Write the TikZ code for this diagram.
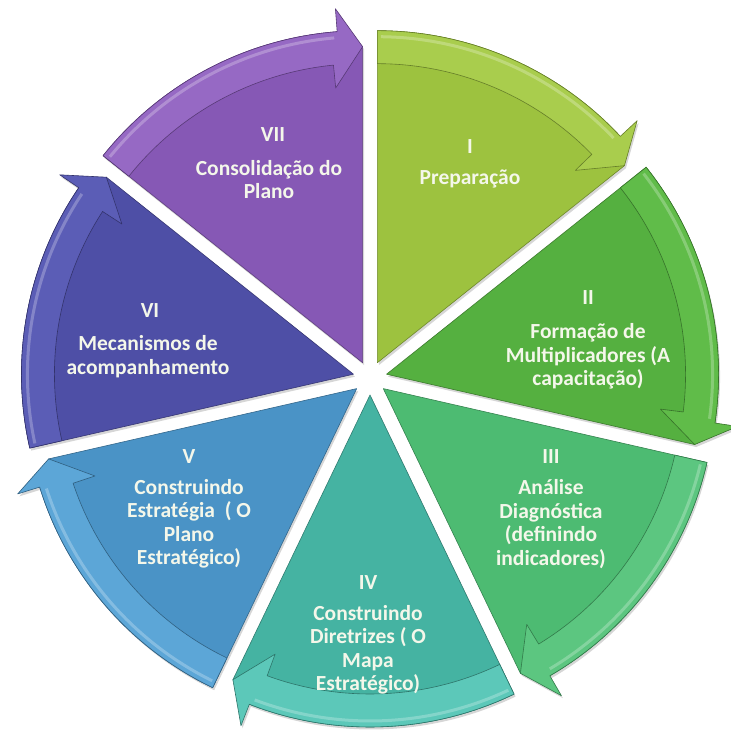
\documentclass[tikz,border=0pt]{standalone}
\usepackage{fontspec}
\setmainfont{Carlito}
\definecolor{txt}{HTML}{F4F7EA}
\definecolor{bI}{HTML}{9DC23F}\definecolor{aI}{HTML}{A9CD4D}
\definecolor{bII}{HTML}{55B040}\definecolor{aII}{HTML}{60BC49}
\definecolor{bIII}{HTML}{4DBB72}\definecolor{aIII}{HTML}{5CC680}
\definecolor{bIV}{HTML}{45B3A2}\definecolor{aIV}{HTML}{5CC8B9}
\definecolor{bV}{HTML}{4A93C6}\definecolor{aV}{HTML}{5CA6D7}
\definecolor{bVI}{HTML}{4E4FA6}\definecolor{aVI}{HTML}{5B5DB6}
\definecolor{bVII}{HTML}{8658B5}\definecolor{aVII}{HTML}{9669C4}
\tikzset{
  lbl/.style={text=txt, align=center, font=\fontsize{21.5}{23.5}\selectfont\bfseries, inner sep=0pt},
}
\newcommand\segdraw[3]{%
  \pgfmathsetmacro\aA{90-#1*360/7}%
  \pgfmathsetmacro\aB{\aA-360/7}%
  \pgfmathsetmacro\aM{\aA-180/7}%
  \pgfmathsetmacro\aHo{\aB+4.4}%
  \pgfmathsetmacro\aHi{\aB+5.6}%
  \pgfmathsetmacro\cx{370+17*cos(\aM)}%
  \pgfmathsetmacro\cy{353+17*sin(\aM)}%
  \begin{scope}[shift={(\cx pt,\cy pt)}]
    \fill[black,opacity=0.16,shift={(1.5pt,-2.5pt)}] (0,0) -- (\aA:332pt) arc[start angle=\aA,end angle=\aHo,radius=332pt] -- (\aHo:355pt) -- (\aB:316pt) -- cycle;
    \filldraw[fill=#2,draw=#2!70!black,line width=0.6pt,line join=round] (0,0) -- (\aA:332pt) arc[start angle=\aA,end angle=\aHo,radius=332pt] -- (\aB:316pt) -- cycle;
    \filldraw[fill=#3,draw=#2!65!black,line width=0.6pt,line join=round] (\aA:332pt) arc[start angle=\aA,end angle=\aHo,radius=332pt] -- (\aHo:355pt) -- (\aB:316pt) -- (\aHi:276pt) -- (\aHi:299pt) arc[start angle=\aHi,end angle=\aA,radius=299pt] -- cycle;
    \draw[white,opacity=0.25,line width=3pt] (\aA-0.6:326pt) arc[start angle=\aA-0.6,end angle=\aHo+0.6,radius=326pt];
  \end{scope}
}
\begin{document}
\begin{tikzpicture}[x=1pt,y=1pt]
\useasboundingbox (0,0) rectangle (731,731);
\fill[white] (0,0) rectangle (731,731);
\segdraw{0}{bI}{aI}
\segdraw{1}{bII}{aII}
\segdraw{2}{bIII}{aIII}
\segdraw{3}{bIV}{aIV}
\segdraw{4}{bV}{aV}
\segdraw{5}{bVI}{aVI}
\segdraw{6}{bVII}{aVII}
% labels (y = 731 - image y)
\node[lbl] (n7) at (273,596) {VII};
\node[lbl] (t7) at (269,551.5) {Consolidação do\\Plano};
\node[lbl] (n1) at (470,584) {I};
\node[lbl] (t1) at (470,552) {Preparação};
\node[lbl] (n2) at (588,433) {II};
\node[lbl] (t2) at (588,374.3) {Formação de\\Multiplicadores (A\\capacitação)};
\node[lbl] (n3) at (551,274) {III};
\node[lbl] (t3) at (551,207) {Análise\\Diagnóstica\\(definindo\\indicadores)};
\node[lbl] (n4) at (368,148) {IV};
\node[lbl] (t4) at (368,81) {Construindo\\Diretrizes ( O\\Mapa\\Estratégico)};
\node[lbl] (n5) at (189,274) {V};
\node[lbl] (t5) at (189,207) {Construindo\\Estratégia \ ( O\\Plano\\Estratégico)};
\node[lbl] (n6) at (150,420) {VI};
\node[lbl] (t6) at (148,374.5) {Mecanismos de\\acompanhamento};
\end{tikzpicture}
\end{document}
